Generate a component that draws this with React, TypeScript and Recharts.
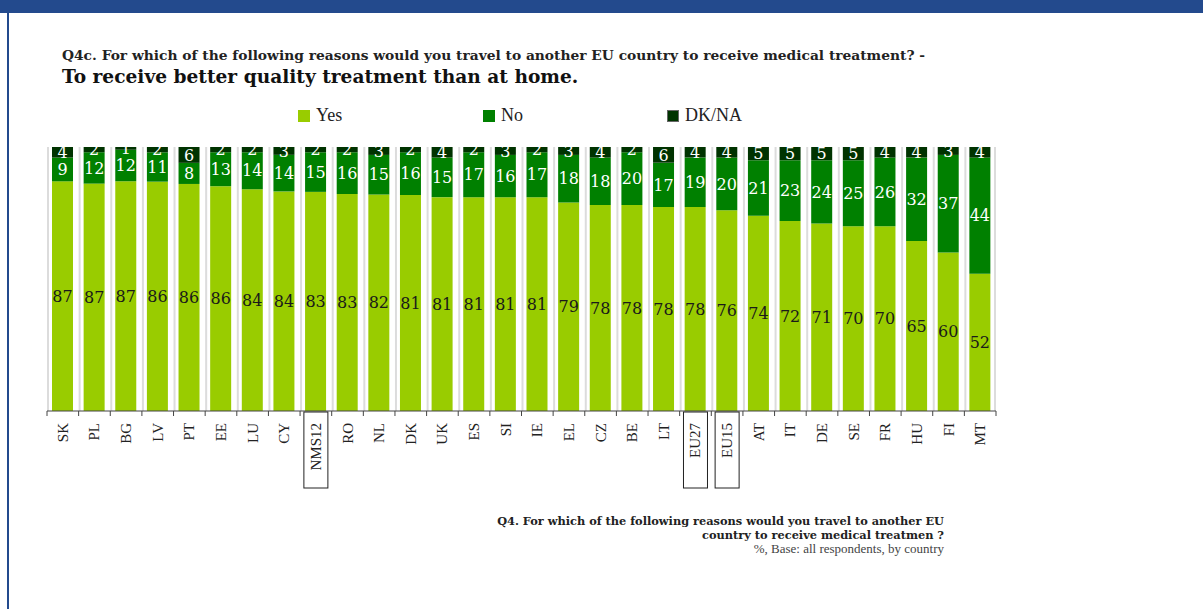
import React from 'react';
import { BarChart, Bar, XAxis, YAxis, CartesianGrid, LabelList } from 'recharts';

const countries = ['SK', 'PL', 'BG', 'LV', 'PT', 'EE', 'LU', 'CY', 'NMS12', 'RO', 'NL', 'DK', 'UK', 'ES', 'SI', 'IE', 'EL', 'CZ', 'BE', 'LT', 'EU27', 'EU15', 'AT', 'IT', 'DE', 'SE', 'FR', 'HU', 'FI', 'MT'];
const yesValues = [87, 87, 87, 86, 86, 86, 84, 84, 83, 83, 82, 81, 81, 81, 81, 81, 79, 78, 78, 78, 78, 76, 74, 72, 71, 70, 70, 65, 60, 52];
const noValues = [9, 12, 12, 11, 8, 13, 14, 14, 15, 16, 15, 16, 15, 17, 16, 17, 18, 18, 20, 17, 19, 20, 21, 23, 24, 25, 26, 32, 37, 44];
const dkValues = [4, 2, 1, 2, 6, 2, 2, 3, 2, 2, 3, 2, 4, 2, 3, 2, 3, 4, 2, 6, 4, 4, 5, 5, 5, 5, 4, 4, 3, 4];
const boxedLabels = ['NMS12', 'EU27', 'EU15'];

const seriesNames = ['Yes', 'No', 'DK/NA'];
const COLORS = ['#99cc00', '#008000', '#003300'];

const data = countries.map((country, i) => ({
  country,
  yes: yesValues[i],
  no: noValues[i],
  dk: dkValues[i],
}));

const W = 1203;
const H = 609;
const PLOT_LEFT = 47;
const PLOT_RIGHT = 996;
const BAND = (PLOT_RIGHT - PLOT_LEFT) / countries.length;
const serif = '"Liberation Serif", "Times New Roman", serif';
const georgia = '"DejaVu Serif", serif';

const CountryTick = (props: any) => {
  const { x, y, payload, index } = props;
  const label = payload.value as string;
  const boxed = boxedLabels.includes(label);
  return (
    <g>
      <line x1={x - BAND / 2} y1={y} x2={x - BAND / 2} y2={y + 5} stroke="#444" />
      {index === countries.length - 1 && (
        <line x1={x + BAND / 2} y1={y} x2={x + BAND / 2} y2={y + 5} stroke="#444" />
      )}
      {boxed && <rect x={x - 12} y={y + 1} width={24} height={76} fill="none" stroke="#222" />}
      <text
        transform={`translate(${x + 5},${y + 12}) rotate(-90)`}
        textAnchor="end"
        fontFamily={serif}
        fontSize={15}
        fill="#222"
      >
        {label}
      </text>
    </g>
  );
};

export default function App() {
  return (
    <div style={{ position: 'relative', width: W, height: H, background: '#fff', overflow: 'hidden' }}>
      <style>{'body{margin:0}'}</style>
      <div style={{ position: 'absolute', left: 0, top: 0, width: W, height: 13, background: '#234a8d' }} />
      <div style={{ position: 'absolute', left: 7, top: 0, width: 2, height: H, background: '#234a8d' }} />

      <div style={{ position: 'absolute', left: 62, top: 47, fontFamily: georgia, fontWeight: 'bold', fontSize: 13.8, color: '#222', whiteSpace: 'nowrap' }}>
        Q4c. For which of the following reasons would you travel to another EU country to receive medical treatment? -
      </div>
      <div style={{ position: 'absolute', left: 62, top: 66, fontFamily: georgia, fontWeight: 'bold', fontSize: 18.6, color: '#111', whiteSpace: 'nowrap' }}>
        To receive better quality treatment than at home.
      </div>

      {seriesNames.map((name, i) => (
        <div key={name} style={{ position: 'absolute', left: [298, 483, 667][i], top: 105, display: 'flex', alignItems: 'center', fontFamily: serif, fontSize: 18, color: '#222' }}>
          <span style={{ display: 'inline-block', width: 12, height: 12, background: COLORS[i], border: i === 2 ? '1px solid #666' : 'none', boxSizing: 'border-box', marginRight: 6 }} />
          {name}
        </div>
      ))}

      <div style={{ position: 'absolute', left: 0, top: 0 }}>
        <BarChart
          width={W}
          height={H}
          data={data}
          stackOffset="expand"
          margin={{ top: 147, right: W - PLOT_RIGHT, bottom: 108, left: PLOT_LEFT }}
        >
          <CartesianGrid
            horizontal={false}
            stroke="#dcdcdc"
            strokeWidth={2}
            verticalCoordinatesGenerator={({ offset }: any) =>
              countries.map((_, i) => offset.left + i * BAND + 1).concat(offset.left + offset.width - 1)
            }
          />
          <XAxis
            dataKey="country"
            interval={0}
            height={90}
            tickLine={false}
            tickSize={0}
            tickMargin={0}
            axisLine={{ stroke: '#444' }}
            tick={<CountryTick />}
          />
          <YAxis hide domain={[0, 1]} />
          <Bar dataKey="yes" stackId="a" fill={COLORS[0]} barSize={21} isAnimationActive={false}>
            <LabelList dataKey="yes" position="center" fill="#1a1a1a" fontSize={16} fontFamily={georgia} />
          </Bar>
          <Bar dataKey="no" stackId="a" fill={COLORS[1]} barSize={21} isAnimationActive={false}>
            <LabelList dataKey="no" position="center" fill="#fff" fontSize={16} fontFamily={georgia} />
          </Bar>
          <Bar dataKey="dk" stackId="a" fill={COLORS[2]} barSize={21} isAnimationActive={false}>
            <LabelList dataKey="dk" position="center" fill="#fff" fontSize={16} fontFamily={georgia} />
          </Bar>
        </BarChart>
      </div>

      <div style={{ position: 'absolute', right: W - 944, top: 514, textAlign: 'right', fontFamily: georgia, fontSize: 11.35, color: '#222', lineHeight: '14px' }}>
        <div style={{ fontWeight: 'bold' }}>Q4. For which of the following reasons would you travel to another EU</div>
        <div style={{ fontWeight: 'bold' }}>country to receive medical treatmen ?</div>
        <div style={{ color: '#444', fontFamily: serif, fontSize: 13 }}>%, Base: all respondents, by country</div>
      </div>
    </div>
  );
}
